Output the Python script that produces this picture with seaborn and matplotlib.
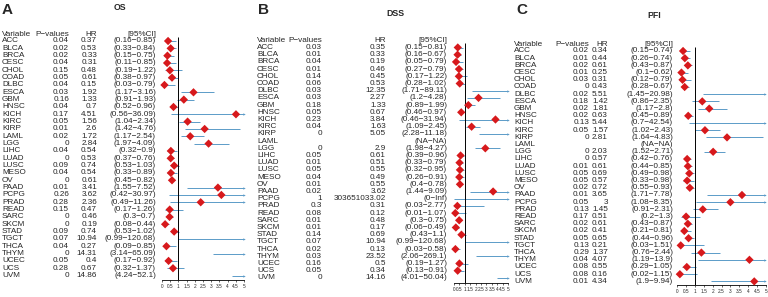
import numpy as np
import pandas as pd
import seaborn as sns
import matplotlib.pyplot as plt

sns.set_style("white")
plt.rcParams['font.family'] = ['Liberation Sans', 'DejaVu Sans']

# ====================
# data
# ====================
cancers = ["ACC", "BLCA", "BRCA", "CESC", "CHOL", "COAD", "DLBC", "ESCA", "GBM", "HNSC",
           "KICH", "KIRC", "KIRP", "LAML", "LGG", "LIHC", "LUAD", "LUSC", "MESO", "OV",
           "PAAD", "PCPG", "PRAD", "READ", "SARC", "SKCM", "STAD", "TGCT", "THCA", "THYM",
           "UCEC", "UCS", "UVM"]

os_p = ["0.04", "0.02", "0.02", "0.04", "0.15", "0.05", "0.04", "0.03", "0.16", "0.04",
        "0.17", "0.05", "0.01", "0.02", "0", "0.04", "0", "0.09", "0.04", "0",
        "0.01", "0.26", "0.28", "0.15", "0", "0", "0.09", "0.07", "0.04", "0",
        "0.05", "0.28", "0"]
os_hr = ["0.37", "0.53", "0.33", "0.31", "0.48", "0.61", "0.15", "1.92", "1.33", "0.7",
         "4.51", "1.56", "2.6", "1.72", "2.84", "0.54", "0.53", "0.74", "0.54", "0.61",
         "3.41", "3.62", "2.36", "0.47", "0.46", "0.19", "0.74", "10.94", "0.27", "14.31",
         "0.4", "0.67", "14.86"]
os_lo = ["0.16", "0.33", "0.15", "0.11", "0.19", "0.38", "0.03", "1.17", "0.91", "0.52",
         "0.56", "1.04", "1.42", "1.17", "1.97", "0.32", "0.37", "0.53", "0.33", "0.45",
         "1.55", "0.42", "0.49", "0.17", "0.3", "0.08", "0.53", "0.99", "0.09", "3.14",
         "0.17", "0.32", "4.24"]
os_hi = ["0.85", "0.84", "0.75", "0.85", "1.22", "0.97", "0.79", "3.16", "1.93", "0.96",
         "36.09", "2.34", "4.76", "2.54", "4.09", "0.9", "0.76", "1.03", "0.89", "0.82",
         "7.52", "30.97", "11.26", "1.26", "0.7", "0.44", "1.02", "120.68", "0.85", "65.09",
         "0.92", "1.37", "52.1"]

dss_p = ["0.03", "0.01", "0.04", "0.01", "0.14", "0.06", "0.03", "0.03", "0.18", "0.05",
         "0.23", "0.04", "0", "", "0", "0.05", "0.01", "0.05", "0.04", "0.01",
         "0.02", "1", "0.3", "0.08", "0.01", "0.01", "0.14", "0.07", "0.02", "0.03",
         "0.16", "0.05", "0"]
dss_hr = ["0.35", "0.33", "0.19", "0.46", "0.45", "0.53", "12.35", "2.27", "1.33", "0.67",
          "3.84", "1.63", "5.05", "", "2.9", "0.61", "0.51", "0.55", "0.49", "0.55",
          "3.62", "303651033.02", "0.31", "0.12", "0.48", "0.17", "0.69", "10.94", "0.13", "23.52",
          "0.5", "0.34", "14.16"]
dss_lo = ["0.15", "0.16", "0.05", "0.27", "0.17", "0.28", "1.71", "1.2", "0.89", "0.46",
          "0.46", "1.09", "2.28", "NA", "1.98", "0.39", "0.33", "0.32", "0.26", "0.4",
          "1.44", "0", "0.03", "0.01", "0.3", "0.06", "0.43", "0.99", "0.03", "2.06",
          "0.19", "0.13", "4.01"]
dss_hi = ["0.81", "0.67", "0.79", "0.79", "1.22", "1.02", "89.11", "4.28", "1.99", "0.97",
          "31.94", "2.45", "11.18", "NA", "4.27", "0.96", "0.79", "0.95", "0.91", "0.78",
          "9.09", "Inf", "2.77", "1.07", "0.75", "0.49", "1.1", "120.68", "0.58", "269.1",
          "1.27", "0.91", "50.04"]

pfi_p = ["0.02", "0.01", "0.02", "0.01", "0.03", "0", "0.02", "0.18", "0.02", "0.02",
         "0.13", "0.05", "0", "", "0", "0", "0.01", "0.05", "0.05", "0.02",
         "0.01", "0.05", "0.13", "0.17", "0.02", "0.02", "0.05", "0.13", "0.29", "0.04",
         "0.08", "0.08", "0.01"]
pfi_hr = ["0.34", "0.44", "0.61", "0.25", "0.31", "0.43", "5.51", "1.42", "1.81", "0.63",
          "5.44", "1.57", "2.81", "", "2.03", "0.57", "0.61", "0.69", "0.57", "0.72",
          "3.65", "3", "1.45", "0.51", "0.61", "0.41", "0.65", "0.21", "1.37", "4.07",
          "0.55", "0.16", "4.34"]
pfi_lo = ["0.15", "0.26", "0.43", "0.1", "0.12", "0.28", "1.45", "0.86", "1.17", "0.45",
          "0.7", "1.02", "1.64", "NA", "1.52", "0.42", "0.44", "0.49", "0.33", "0.55",
          "1.71", "1.08", "0.91", "0.2", "0.43", "0.21", "0.44", "0.03", "0.76", "1.19",
          "0.29", "0.02", "1.9"]
pfi_hi = ["0.74", "0.74", "0.87", "0.62", "0.79", "0.67", "20.98", "2.35", "2.8", "0.89",
          "42.54", "2.43", "4.83", "NA", "2.71", "0.76", "0.85", "0.98", "0.98", "0.93",
          "7.78", "8.35", "2.31", "1.3", "0.87", "0.81", "0.96", "1.51", "2.44", "13.9",
          "1.05", "1.15", "9.94"]

W, H = 768, 297
fig = plt.figure(figsize=(W / 100, H / 100), dpi=100)


def px(x, y):
    return x / W, 1 - y / H


# layout of each panel in pixels
panels = [
    dict(letter="A", title="OS", p=os_p, hr=os_hr, lo=os_lo, hi=os_hi,
         lx=2, tx=120, ty=8, var_x=2, p_x=69, hr_x=97, ci_x=156,
         head_y=34, row0=41, step=7.33, f0=162, f5=244, axis_y=280),
    dict(letter="B", title="DSS", p=dss_p, hr=dss_hr, lo=dss_lo, hi=dss_hi,
         lx=258, tx=395, ty=13, var_x=257, p_x=322, hr_x=386, ci_x=447,
         head_y=40, row0=47.5, step=7.2, f0=454, f5=508, axis_y=283),
    dict(letter="C", title="PFI", p=pfi_p, hr=pfi_hr, lo=pfi_lo, hi=pfi_hi,
         lx=516, tx=654, ty=15, var_x=514, p_x=589, hr_x=608, ci_x=673,
         head_y=44, row0=51, step=7.2, f0=677, f5=766, axis_y=285),
]

fs = 5.9
red = "#d7191c"
blue = "#5b9bc8"

for pn in panels:
    # ------ panel letter and title ------ #
    fig.text(*px(pn["lx"], 3), pn["letter"], fontsize=11, fontweight="bold",
             va="top", ha="left")
    fig.text(*px(pn["tx"], pn["ty"]), pn["title"], fontsize=6.3, fontweight="bold",
             va="center", ha="center")

    # ------ table ------ #
    hy = pn["head_y"]
    fig.text(*px(pn["var_x"], hy), "Variable", fontsize=fs, va="center", ha="left")
    fig.text(*px(pn["p_x"], hy), "P\u2212values", fontsize=fs, va="center", ha="right")
    fig.text(*px(pn["hr_x"], hy), "HR", fontsize=fs, va="center", ha="right")
    fig.text(*px(pn["ci_x"], hy), "[95%CI]", fontsize=fs, va="center", ha="right")
    rows_y = [pn["row0"] + i * pn["step"] for i in range(len(cancers))]
    for i, c in enumerate(cancers):
        y = rows_y[i]
        fig.text(*px(pn["var_x"], y), c, fontsize=fs, va="center", ha="left")
        fig.text(*px(pn["p_x"], y), pn["p"][i], fontsize=fs, va="center", ha="right")
        fig.text(*px(pn["hr_x"], y), pn["hr"][i], fontsize=fs, va="center", ha="right")
        fig.text(*px(pn["ci_x"], y), "(%s\u2212%s)" % (pn["lo"][i], pn["hi"][i]),
                 fontsize=fs, va="center", ha="right")

    # ------ forest plot ------ #
    top = hy + 3
    ax = fig.add_axes([pn["f0"] / W, 1 - pn["axis_y"] / H,
                       (pn["f5"] - pn["f0"]) / W, (pn["axis_y"] - top) / H])
    ax.set_xlim(0, 5)
    ax.set_ylim(pn["axis_y"], top)
    ax.patch.set_alpha(0)

    df = pd.DataFrame({"y": rows_y, "hr": pn["hr"], "lo": pn["lo"], "hi": pn["hi"]})
    df = df[df["lo"] != "NA"].copy()
    df["hr"] = df["hr"].astype(float)
    df["lo"] = df["lo"].astype(float)
    df["hi"] = df["hi"].astype(float)

    ax.hlines(df["y"], df["lo"].clip(upper=5), df["hi"].clip(upper=5), color=blue, lw=0.7)
    clipped = df[df["hi"] > 5]
    ax.scatter(np.full(len(clipped), 4.97), clipped["y"], marker=">", s=3, color=blue,
               linewidths=0, clip_on=False)
    ax.vlines(1, top, pn["axis_y"], color="black", lw=0.7)

    shown = df[df["hr"] <= 5]
    sns.scatterplot(data=shown, x="hr", y="y", marker="D", color=red, s=18,
                    edgecolor="none", ax=ax, legend=False, zorder=3, clip_on=False)

    ax.set_xlabel("")
    ax.set_ylabel("")
    ax.set_yticks([])
    ticks = np.arange(0, 5.01, 0.5)
    ax.set_xticks(ticks)
    ax.set_xticklabels(["%g" % t for t in ticks], fontsize=3.4)
    ax.tick_params(axis="x", length=1.5, width=0.5, pad=1.2, bottom=True)
    for s in ["top", "left", "right"]:
        ax.spines[s].set_visible(False)
    ax.spines["bottom"].set_linewidth(0.6)
    ax.spines["bottom"].set_color("black")

fig.savefig("out.png", dpi=100)
